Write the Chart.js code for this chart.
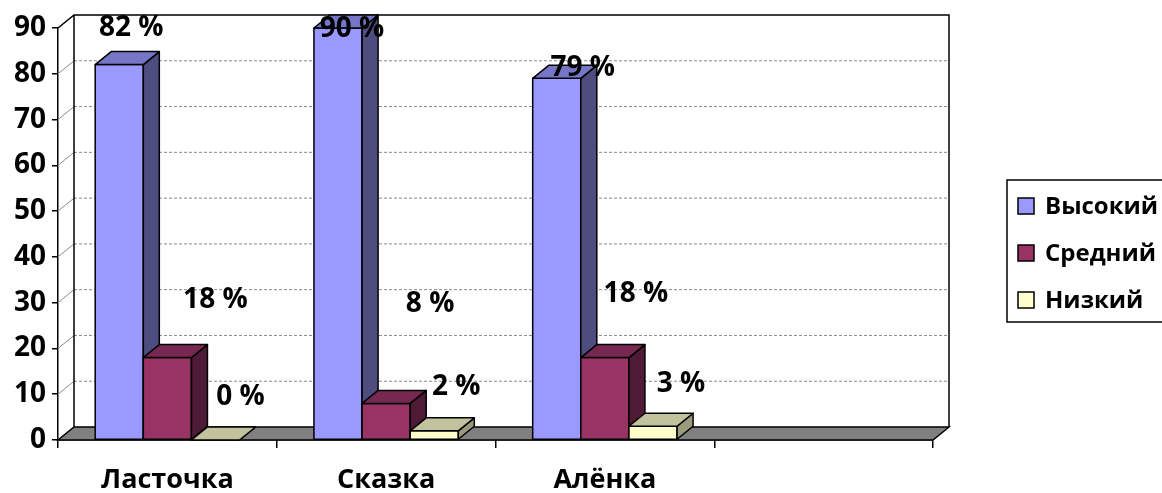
<!DOCTYPE html>
<html lang="ru">
<head>
    <meta charset="UTF-8">
    <title>Уровни по группам</title>
    <script src="https://cdn.jsdelivr.net/npm/chart.js@4.4.0/dist/chart.umd.min.js"></script>
    <style>
        html, body { margin: 0; padding: 0; background: #fff; }
        .chart-box { width: 1162px; height: 493px; position: relative; }
    </style>
</head>
<body>
<div class="chart-box"><canvas id="levelChart"></canvas></div>
<script>
    // data
    const groups = ['Ласточка', 'Сказка', 'Алёнка', ''];
    const seriesNames = ['Высокий', 'Средний', 'Низкий'];
    const highValues = [82, 90, 79];
    const midValues = [18, 8, 18];
    const lowValues = [0, 2, 3];
    const yTicks = [0, 10, 20, 30, 40, 50, 60, 70, 80, 90];

    // where the % labels sit relative to the top of each bar (Excel put them oddly)
    const labelNudges = [
        [[12, -37], [14, 1], [26, -10]],
        [[48, -58], [44, -99], [31, -64]],
        [[25, -43], [22, -44], [28, -42]]
    ];

    const DX = 16, DY = -13;   // depth of the fake 3d
    const FONT = '"Open Sans", "Noto Sans", sans-serif';
    const shades = [
        { front: '#9999ff', side: '#4d4d80', top: '#7676c6' },
        { front: '#993366', side: '#4f1a35', top: '#772851' },
        { front: '#ffffcc', side: '#9a9a7c', top: '#c2c29c' }
    ];

    function poly(ctx, pts, fill) {
        ctx.beginPath();
        ctx.moveTo(pts[0][0], pts[0][1]);
        for (let i = 1; i < pts.length; i++) ctx.lineTo(pts[i][0], pts[i][1]);
        ctx.closePath();
        if (fill) { ctx.fillStyle = fill; ctx.fill(); }
        ctx.stroke();
    }

    const box3d = {
        id: 'box3d',
        beforeDatasetsDraw(chart) {
            const ctx = chart.ctx, a = chart.chartArea, y = chart.scales.y;
            const y0 = y.getPixelForValue(0);
            const top = y.getPixelForValue(yTicks[yTicks.length - 1]);
            ctx.save();
            // back wall grid
            ctx.strokeStyle = '#8a8a8a';
            ctx.lineWidth = 1;
            ctx.setLineDash([3, 2]);
            yTicks.slice(1, -1).forEach(v => {
                const py = y.getPixelForValue(v) + DY;
                ctx.beginPath();
                ctx.moveTo(a.left + DX, py);
                ctx.lineTo(a.right + DX, py);
                ctx.stroke();
            });
            ctx.setLineDash([]);
            // left wall
            yTicks.slice(1, -1).forEach(v => {
                const py = y.getPixelForValue(v);
                ctx.beginPath();
                ctx.moveTo(a.left, py);
                ctx.lineTo(a.left + DX, py + DY);
                ctx.stroke();
            });
            // frame
            ctx.strokeStyle = '#000';
            ctx.lineWidth = 1.5;
            ctx.beginPath();
            ctx.moveTo(a.left, top);
            ctx.lineTo(a.left + DX, top + DY);
            ctx.lineTo(a.right + DX, top + DY);
            ctx.lineTo(a.right + DX, y0 + DY);
            ctx.moveTo(a.left + DX, top + DY);
            ctx.lineTo(a.left + DX, y0 + DY);
            ctx.stroke();
            // floor
            poly(ctx, [[a.left, y0], [a.right, y0], [a.right + DX, y0 + DY], [a.left + DX, y0 + DY]], '#808080');
            ctx.restore();
        },
        afterDatasetsDraw(chart) {
            // redraw the boxes left to right so the faces overlap like in Excel
            const ctx = chart.ctx;
            const metas = chart.data.datasets.map((ds, di) => chart.getDatasetMeta(di));
            ctx.save();
            ctx.strokeStyle = '#000';
            ctx.lineWidth = 1.5;
            ctx.lineJoin = 'round';
            groups.forEach((g, i) => {
                metas.forEach((meta, di) => {
                    const bar = meta.data[i];
                    if (!bar) return;
                    const p = bar.getProps(['x', 'y', 'base', 'width'], true);
                    if (isNaN(p.y)) return;
                    const s = shades[di];
                    const l = p.x - p.width / 2, r = p.x + p.width / 2;
                    if (p.base - p.y > 0.5) poly(ctx, [[l, p.y], [r, p.y], [r, p.base], [l, p.base]], s.front);
                    poly(ctx, [[r, p.y], [r + DX, p.y + DY], [r + DX, p.base + DY], [r, p.base]], s.side);
                    poly(ctx, [[l, p.y], [l + DX, p.y + DY], [r + DX, p.y + DY], [r, p.y]], s.top);
                });
            });
            ctx.restore();
        },
        afterDraw(chart) {
            const ctx = chart.ctx, a = chart.chartArea;
            ctx.save();
            // value labels
            ctx.fillStyle = '#000';
            ctx.font = 'bold 28px ' + FONT;
            ctx.textAlign = 'center';
            ctx.textBaseline = 'middle';
            chart.data.datasets.forEach((ds, di) => {
                chart.getDatasetMeta(di).data.forEach((bar, i) => {
                    if (ds.data[i] == null) return;
                    const n = labelNudges[di][i];
                    ctx.fillText(ds.data[i] + ' %', bar.x + n[0], bar.y + n[1]);
                });
            });
            // legend
            const lx = a.right + 74, ly = 180;
            ctx.strokeStyle = '#000';
            ctx.lineWidth = 1.5;
            ctx.strokeRect(lx, ly, 200, 142);
            ctx.font = 'bold 24px ' + FONT;
            ctx.textAlign = 'left';
            chart.data.datasets.forEach((ds, di) => {
                const cy = ly + 26 + di * 47;
                ctx.fillStyle = shades[di].front;
                ctx.fillRect(lx + 11, cy - 8, 16, 16);
                ctx.strokeRect(lx + 11, cy - 8, 16, 16);
                ctx.fillStyle = '#000';
                ctx.fillText(ds.label, lx + 38, cy + 1);
            });
            ctx.restore();
        }
    };

    const seriesValues = [highValues, midValues, lowValues];
    new Chart(document.getElementById('levelChart'), {
        type: 'bar',
        data: {
            labels: groups,
            datasets: seriesNames.map((name, i) => ({
                label: name,
                data: seriesValues[i],
                backgroundColor: shades[i].front,
                borderColor: '#000',
                borderWidth: 0,
                categoryPercentage: 0.66,
                barPercentage: 1
            }))
        },
        options: {
            responsive: true,
            maintainAspectRatio: false,
            animation: false,
            layout: { padding: { top: 28, right: 229, left: 0, bottom: 0 } },
            plugins: {
                legend: { display: false },
                tooltip: { enabled: false }
            },
            scales: {
                x: {
                    grid: { offset: true, drawOnChartArea: false, tickLength: 8, color: '#000', lineWidth: 1.5 },
                    border: { display: true, color: '#000', width: 1.5 },
                    ticks: { color: '#000', font: { family: FONT, size: 27, weight: 'bold' }, padding: 16 },
                    afterFit(scale) { scale.height = 53; }
                },
                y: {
                    min: 0,
                    max: 90,
                    ticks: { stepSize: 10, color: '#000', font: { family: FONT, size: 28, weight: 'bold' }, padding: 6 },
                    grid: { drawOnChartArea: false, tickLength: 6, color: '#000', lineWidth: 1.5 },
                    border: { display: true, color: '#000', width: 1.5 },
                    afterFit(scale) { scale.width = 58; }
                }
            }
        },
        plugins: [box3d]
    });
</script>
</body>
</html>
